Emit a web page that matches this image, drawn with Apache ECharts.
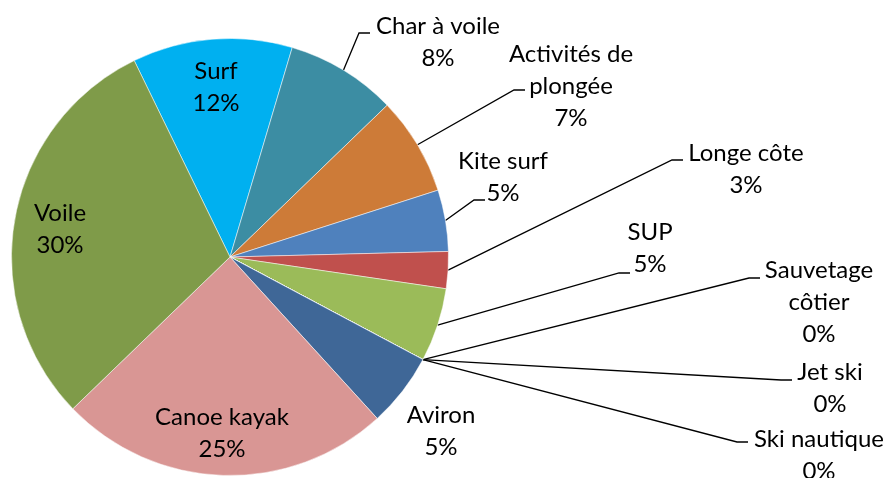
<!DOCTYPE html>
<html>
<head>
<meta charset="utf-8">
<script src="https://cdn.jsdelivr.net/npm/echarts@6/dist/echarts.min.js"></script>
<style>
  html, body { margin: 0; background: #fff; }
  #chart { width: 888px; height: 478px; }
</style>
</head>
<body>
<div id="chart"></div>
<script>
// clockwise from the top-left edge of "Surf"
const sports = ['Surf', 'Char à voile', 'Activités de plongée', 'Kite surf', 'Longe côte', 'SUP',
  'Sauvetage côtier', 'Jet ski', 'Ski nautique', 'Aviron', 'Canoe kayak', 'Voile'];
const counts = [13, 9, 8, 5, 3, 6, 0, 0, 0, 6, 27, 33];
const colors = ['#00B0F0', '#3C8DA3', '#CD7B38', '#4F81BD', '#C0504D', '#9BBB59',
  '#8064A2', '#4BACC6', '#F79646', '#3F6797', '#D99694', '#7F9B49'];

// label breaks as in the original
const wrapped = { 'Activités de plongée': 'Activités de\nplongée', 'Sauvetage côtier': 'Sauvetage\ncôtier' };
// label centre x, centre y, then where the leader line ends (y, x); no leader when missing
const labelSpots = [
  [216, 87], [438, 42, 33, 370], [571, 86, 90, 525], [503, 177, 200, 485], [746, 169, 160, 683],
  [650, 248, 273, 630], [819, 302, 278, 760], [830, 388, 380, 792], [819, 455, 442, 748],
  [441, 431], [222, 433], [60, 229]
];

const total = counts.reduce((a, b) => a + b, 0);
const chart = echarts.init(document.getElementById('chart'));

const data = sports.map((name, i) => ({
  name: name,
  value: counts[i],
  itemStyle: { color: colors[i] },
  labelLine: { show: labelSpots[i][2] != null }
}));

chart.setOption({
  animation: false,
  series: [{
    type: 'pie',
    center: [230, 257],
    radius: 218.5,
    startAngle: 116,
    clockwise: true,
    avoidLabelOverlap: false,
    emphasis: { disabled: true },
    itemStyle: { borderColor: 'rgba(255,255,255,0.7)', borderWidth: 0.7 },
    label: {
      color: '#000',
      fontFamily: 'Lato',
      fontSize: 24,
      lineHeight: 32,
      align: 'center',
      formatter: p => (wrapped[p.name] || p.name) + '\n' + Math.round(p.value / total * 100) + '%'
    },
    labelLine: { length: 10, length2: 10, lineStyle: { color: '#000', width: 1.3 } },
    labelLayout: function (p) {
      const spot = labelSpots[p.dataIndex];
      const out = { x: spot[0], y: spot[1], align: 'center', verticalAlign: 'middle' };
      if (spot[2] != null && p.labelLinePoints) {
        const start = p.labelLinePoints[0];
        out.labelLinePoints = [[start[0], start[1]], [spot[3] - 11, spot[2]], [spot[3], spot[2]]];
      }
      return out;
    },
    data: data
  }]
});
</script>
</body>
</html>
